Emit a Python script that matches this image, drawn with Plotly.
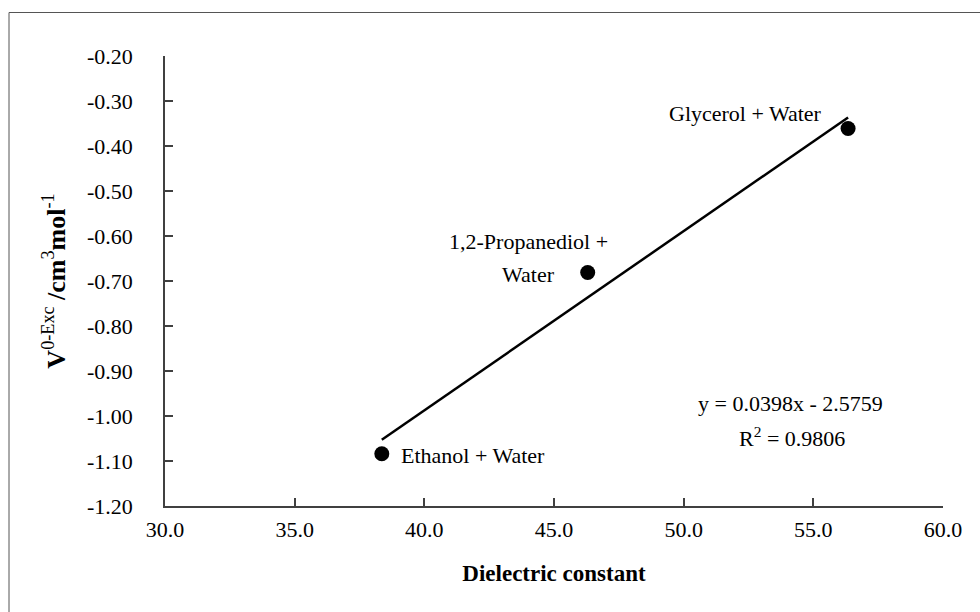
import numpy as np
import plotly.graph_objects as go

# ---- data ----
systems = ["Ethanol + Water", "1,2-Propanediol + Water", "Glycerol + Water"]
dielectric = [38.36, 46.30, 56.34]
v_exc = [-1.084, -0.681, -0.361]
x_ticks = [30, 35, 40, 45, 50, 55, 60]
y_ticks = [-1.2, -1.1, -1.0, -0.9, -0.8, -0.7, -0.6, -0.5, -0.4, -0.3, -0.2]
eq_text = "y = 0.0398x - 2.5759"
r2_text = "R<sup>2</sup> = 0.9806"

FONT = "Liberation Serif"

slope, intercept = np.polyfit(dielectric, v_exc, 1)
trend_x = [min(dielectric), max(dielectric)]
trend_y = [slope * v + intercept for v in trend_x]

fig = go.Figure()
fig.add_trace(go.Scatter(x=trend_x, y=trend_y, mode="lines",
                         line=dict(color="black", width=2.5), showlegend=False,
                         hoverinfo="skip"))
fig.add_trace(go.Scatter(x=dielectric, y=v_exc, mode="markers",
                         marker=dict(color="black", size=15), showlegend=False,
                         text=systems))

# plot area pixel geometry
W, H = 980, 612
L, R, T, B = 165, 943, 56, 506

def px(xp):
    return (xp - L) / (R - L)

def py(yp):
    return (B - yp) / (B - T)

ann = []
lab_font = dict(family=FONT, size=22, color="black")
# data labels anchored to points
ann.append(dict(x=dielectric[2], y=v_exc[2], xref="x", yref="y", text="Glycerol + Water",
                showarrow=False, xanchor="right", yanchor="middle", xshift=-24, yshift=15,
                font=lab_font))
ann.append(dict(x=dielectric[1], y=v_exc[1], xref="x", yref="y", text="1,2-Propanediol +",
                showarrow=False, xanchor="center", yanchor="middle", xshift=-59, yshift=31,
                font=lab_font))
ann.append(dict(x=dielectric[1], y=v_exc[1], xref="x", yref="y", text="Water",
                showarrow=False, xanchor="center", yanchor="middle", xshift=-59, yshift=-2,
                font=lab_font))
ann.append(dict(x=dielectric[0], y=v_exc[0], xref="x", yref="y", text="Ethanol + Water",
                showarrow=False, xanchor="left", yanchor="middle", xshift=17, yshift=-2,
                font=lab_font))
# equation
ann.append(dict(x=px(790), y=py(403), xref="paper", yref="paper", text=eq_text,
                showarrow=False, xanchor="center", yanchor="middle", font=lab_font))
ann.append(dict(x=px(792), y=py(437), xref="paper", yref="paper", text=r2_text,
                showarrow=False, xanchor="center", yanchor="middle", font=lab_font))

fig.update_layout(
    width=W, height=H,
    margin=dict(l=L, r=W - R, t=T, b=H - B),
    paper_bgcolor="white", plot_bgcolor="white",
    font=dict(family=FONT, size=22, color="black"),
    annotations=ann,
    shapes=[dict(type="rect", xref="paper", yref="paper",
                 x0=px(9), x1=px(1000), y0=py(640), y1=py(12.5),
                 line=dict(color="#555555", width=1), layer="below")],
)
fig.update_xaxes(range=[30, 60], tickvals=x_ticks, ticktext=[f"{v:.1f}" for v in x_ticks],
                 showgrid=False, zeroline=False, showline=True, linecolor="#404040", linewidth=1.5,
                 ticks="inside", ticklen=8, tickcolor="#404040", tickwidth=1.5,
                 tickfont=dict(family=FONT, size=22), ticklabelstandoff=3,
                 title=dict(text="<b>Dielectric constant</b>", font=dict(family=FONT, size=23),
                            standoff=24))
fig.update_yaxes(range=[-1.2, -0.2], tickvals=y_ticks, ticktext=[f"{v:.2f}" for v in y_ticks],
                 showgrid=False, zeroline=False, showline=True, linecolor="#404040", linewidth=1.5,
                 ticks="inside", ticklen=8, tickcolor="#404040", tickwidth=1.5,
                 tickfont=dict(family=FONT, size=22), ticklabelstandoff=26,
                 title=dict(text="<b>V</b><sup>0-Exc</sup><b> /cm</b><sup>3</sup><b>mol</b><sup>-1</sup>",
                            font=dict(family=FONT, size=26), standoff=14))

fig.write_html("out.html")
